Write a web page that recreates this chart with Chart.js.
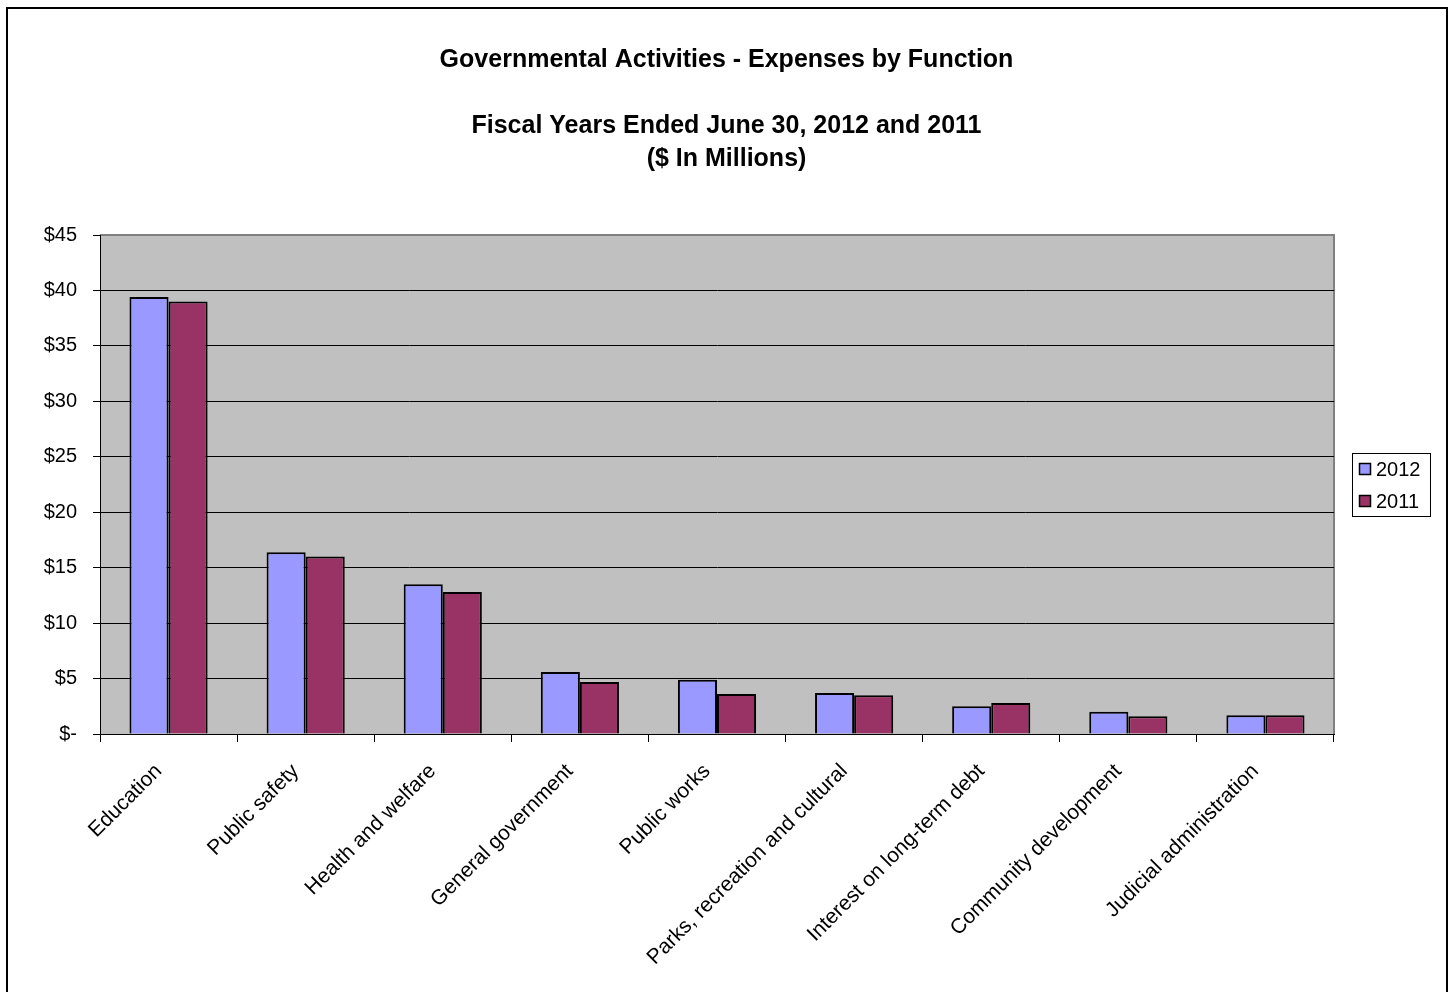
<!DOCTYPE html>
<html>
<head>
<meta charset="utf-8">
<script src="https://cdn.jsdelivr.net/npm/chart.js@4.4.1/dist/chart.umd.min.js"></script>
<style>
	html, body { margin: 0; padding: 0; background: #fff; overflow: hidden; }
	#wrap { position: relative; width: 1451px; height: 992px; }
	#frame { position: absolute; left: 6px; top: 7px; width: 1438px; height: 1000px; border: 2px solid #000; }
	canvas { position: absolute; left: 0; top: 0; }
</style>
</head>
<body>
<div id="wrap">
	<div id="frame"></div>
	<canvas id="myChart" width="1451" height="992"></canvas>
</div>
<script>
// categories (functions)
var functions = [
	'Education',
	'Public safety',
	'Health and welfare',
	'General government',
	'Public works',
	'Parks, recreation and cultural',
	'Interest on long-term debt',
	'Community development',
	'Judicial administration'
];
// $ in millions
var fy2012 = [39.4, 16.4, 13.5, 5.6, 4.9, 3.7, 2.5, 2.0, 1.7];
var fy2011 = [39.0, 16.0, 12.8, 4.7, 3.6, 3.5, 2.8, 1.6, 1.7];
var titleLines = [
	'Governmental Activities - Expenses by Function',
	'',
	'Fiscal Years Ended June 30, 2012 and 2011',
	'($ In Millions)'
];

Chart.defaults.font.family = "'Liberation Sans', Arial, sans-serif";
Chart.defaults.color = '#000';

// gray plot area + gray border top/right (excel style)
var plotBg = {
	id: 'plotBg',
	beforeDraw: function (chart) {
		var a = chart.chartArea, ctx = chart.ctx;
		ctx.save();
		ctx.fillStyle = '#c0c0c0';
		ctx.fillRect(a.left, a.top, a.right - a.left, a.bottom - a.top);
		ctx.strokeStyle = '#808080';
		ctx.lineWidth = 2;
		ctx.beginPath();
		ctx.moveTo(a.left, a.top);
		ctx.lineTo(a.right, a.top);
		ctx.lineTo(a.right, a.bottom);
		ctx.stroke();
		ctx.restore();
	}
};

// title centred on the whole page, not on the plot
var pageTitle = {
	id: 'pageTitle',
	afterDraw: function (chart) {
		var ctx = chart.ctx;
		ctx.save();
		ctx.font = "bold 25px 'Liberation Sans', Arial, sans-serif";
		ctx.fillStyle = '#000';
		ctx.textAlign = 'center';
		ctx.textBaseline = 'middle';
		titleLines.forEach(function (t, i) {
			ctx.fillText(t, chart.width / 2 + 1, 60 + i * 33);
		});
		ctx.restore();
	}
};

// legend box on the right
var boxLegend = {
	id: 'boxLegend',
	afterDraw: function (chart) {
		var ctx = chart.ctx;
		var x = 1352, y = 453, w = 78, h = 63;
		ctx.save();
		ctx.fillStyle = '#fff';
		ctx.fillRect(x, y, w, h);
		ctx.strokeStyle = '#000';
		ctx.lineWidth = 1;
		ctx.strokeRect(x + 0.5, y + 0.5, w, h);
		ctx.font = "20px 'Liberation Sans', Arial, sans-serif";
		ctx.textBaseline = 'middle';
		chart.data.datasets.forEach(function (ds, i) {
			var cy = y + 16 + i * 32;
			ctx.fillStyle = ds.backgroundColor;
			ctx.fillRect(x + 7.5, cy - 5.5, 11, 11);
			ctx.strokeStyle = '#000';
			ctx.lineWidth = 1.5;
			ctx.strokeRect(x + 7.5, cy - 5.5, 11, 11);
			ctx.fillStyle = '#000';
			ctx.fillText(ds.label, x + 24, cy + 1);
		});
		ctx.restore();
	}
};

var ctx = document.getElementById('myChart');
var expChart = new Chart(ctx, {
	type: 'bar',
	data: {
		labels: functions,
		datasets: [{
			label: '2012',
			data: fy2012,
			backgroundColor: '#9999ff',
			borderColor: '#000',
			borderWidth: 2,
			categoryPercentage: 0.57,
			barPercentage: 1.0
		}, {
			label: '2011',
			data: fy2011,
			backgroundColor: '#993366',
			borderColor: '#000',
			borderWidth: 2,
			categoryPercentage: 0.57,
			barPercentage: 1.0
		}]
	},
	options: {
		responsive: false,
		animation: false,
		layout: {
			padding: { left: 0, right: 117, top: 235, bottom: 0 }
		},
		plugins: {
			legend: { display: false },
			tooltip: { enabled: false },
			title: { display: false }
		},
		scales: {
			x: {
				afterFit: function (scale) { scale.height = 258; },
				grid: {
					drawOnChartArea: false,
					drawTicks: true,
					tickLength: 8,
					color: '#000',
					offset: true
				},
				border: { color: '#000', width: 1 },
				ticks: {
					font: { size: 21 },
					minRotation: 45,
					maxRotation: 45,
					autoSkip: false,
					padding: 17,
					labelOffset: -10
				}
			},
			y: {
				min: 0,
				max: 45,
				afterFit: function (scale) { scale.width = 100; },
				grid: {
					color: function (c) { return c.tick && c.tick.value === 45 ? '#808080' : '#000'; },
					tickColor: '#000',
					tickLength: 7
				},
				border: { color: '#000', width: 1 },
				ticks: {
					stepSize: 5,
					font: { size: 20 },
					padding: 16,
					callback: function (v) { return v === 0 ? '$-' : '$' + v; }
				}
			}
		}
	},
	plugins: [plotBg, pageTitle, boxLegend]
});
</script>
</body>
</html>
